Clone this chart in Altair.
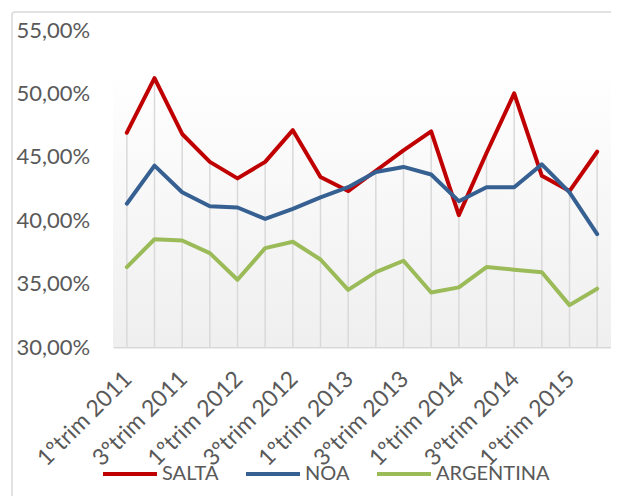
import altair as alt
import pandas as pd

periods = ["1ºtrim 2011", "2ºtrim 2011", "3ºtrim 2011", "4ºtrim 2011",
           "1ºtrim 2012", "2ºtrim 2012", "3ºtrim 2012", "4ºtrim 2012",
           "1ºtrim 2013", "2ºtrim 2013", "3ºtrim 2013", "4ºtrim 2013",
           "1ºtrim 2014", "2ºtrim 2014", "3ºtrim 2014", "4ºtrim 2014",
           "1ºtrim 2015", "2ºtrim 2015"]
salta = [46.9, 51.2, 46.8, 44.6, 43.3, 44.6, 47.1, 43.4, 42.3, 43.9, 45.5, 47.0, 40.4, 45.3, 50.0, 43.5, 42.3, 45.4]
noa = [41.3, 44.3, 42.2, 41.1, 41.0, 40.1, 40.9, 41.8, 42.6, 43.8, 44.2, 43.6, 41.5, 42.6, 42.6, 44.4, 42.2, 38.9]
argentina = [36.3, 38.5, 38.4, 37.4, 35.3, 37.8, 38.3, 36.9, 34.5, 35.9, 36.8, 34.3, 34.7, 36.3, 36.1, 35.9, 33.3, 34.6]
series_names = ["SALTA", "NOA", "ARGENTINA"]
series_colors = ["#C00000", "#376092", "#9BBB59"]
y_ticks = [30, 35, 40, 45, 50, 55]
x_label_values = periods[::2]

rows = []
for name, vals in zip(series_names, [salta, noa, argentina]):
    for p, v in zip(periods, vals):
        rows.append({"period": p, "series": name, "value": v})
df = pd.DataFrame(rows)

FONT = "Lato"
GRAY = "#595959"

xscale = alt.Scale(type="point", domain=periods, padding=0.5)
yscale = alt.Scale(domain=[30, 55], nice=False, zero=False)

x_axis = alt.Axis(values=x_label_values, labelAngle=-45, labelAlign="right",
                  labelBaseline="middle", labelPadding=28, labelOffset=1,
                  ticks=False, grid=False, domainColor="#d9d9d9", domainWidth=2,
                  labelFont=FONT, labelFontSize=23, labelColor=GRAY, title=None,
                  labelOverlap=False)
y_axis = alt.Axis(values=y_ticks, labelAlign="left", labelPadding=97,
                  labelBaseline="middle",
                  labelExpr="replace(format(datum.value, '.2f'), '.', ',') + '%'",
                  ticks=False, grid=False, domain=False,
                  labelFont=FONT, labelFontSize=22, labelColor=GRAY, title=None)

one = pd.DataFrame({"a": [0]})

border = alt.Chart(one).mark_rect(fillOpacity=0, stroke="#d9d9d9", strokeWidth=1.5,
                                  cornerRadius=3).encode(
    x=alt.value(-101), x2=alt.value(515), y=alt.value(-18), y2=alt.value(490))

grad = alt.Gradient(gradient="linear", x1=0, x2=0, y1=0, y2=1,
                    stops=[alt.GradientStop(color="#ffffff", offset=0),
                           alt.GradientStop(color="#efefef", offset=1)])
background = alt.Chart(one).mark_rect(color=grad).encode(
    x=alt.value(0), x2=alt.value(498),
    y=alt.datum(51.9, scale=yscale, axis=y_axis), y2=alt.datum(30))

drops = alt.Chart(df).transform_aggregate(
    top="max(value)", groupby=["period"]
).transform_calculate(base="30").mark_rule(color="#d9d9d9", strokeWidth=1.5).encode(
    x=alt.X("period:N", scale=xscale, axis=x_axis),
    y=alt.Y("top:Q", scale=yscale, axis=y_axis),
    y2="base:Q")

color = alt.Color("series:N", scale=alt.Scale(domain=series_names, range=series_colors),
                  legend=alt.Legend(orient="none", legendX=-12, legendY=415,
                                    direction="horizontal", title=None,
                                    symbolType="stroke", symbolSize=2916,
                                    symbolStrokeWidth=4, labelFont=FONT,
                                    labelFontSize=20, labelColor=GRAY,
                                    labelOffset=3, columnPadding=19))

lines = []
for name in series_names:
    lines.append(alt.Chart(df).transform_filter(alt.datum.series == name).mark_line(
        strokeWidth=4, strokeJoin="round", strokeCap="round").encode(
        x=alt.X("period:N", scale=xscale, axis=x_axis),
        y=alt.Y("value:Q", scale=yscale, axis=y_axis),
        color=color))

chart = alt.layer(border, background, drops, *lines).properties(
    width=498, height=317,
    autosize=alt.AutoSizeParams(type="none"),
    padding={"left": 105, "top": 22, "right": 0, "bottom": 149},
    background="white",
).configure_view(stroke=None)

chart.save("out.html", embed_options={"renderer": "svg", "actions": False})
